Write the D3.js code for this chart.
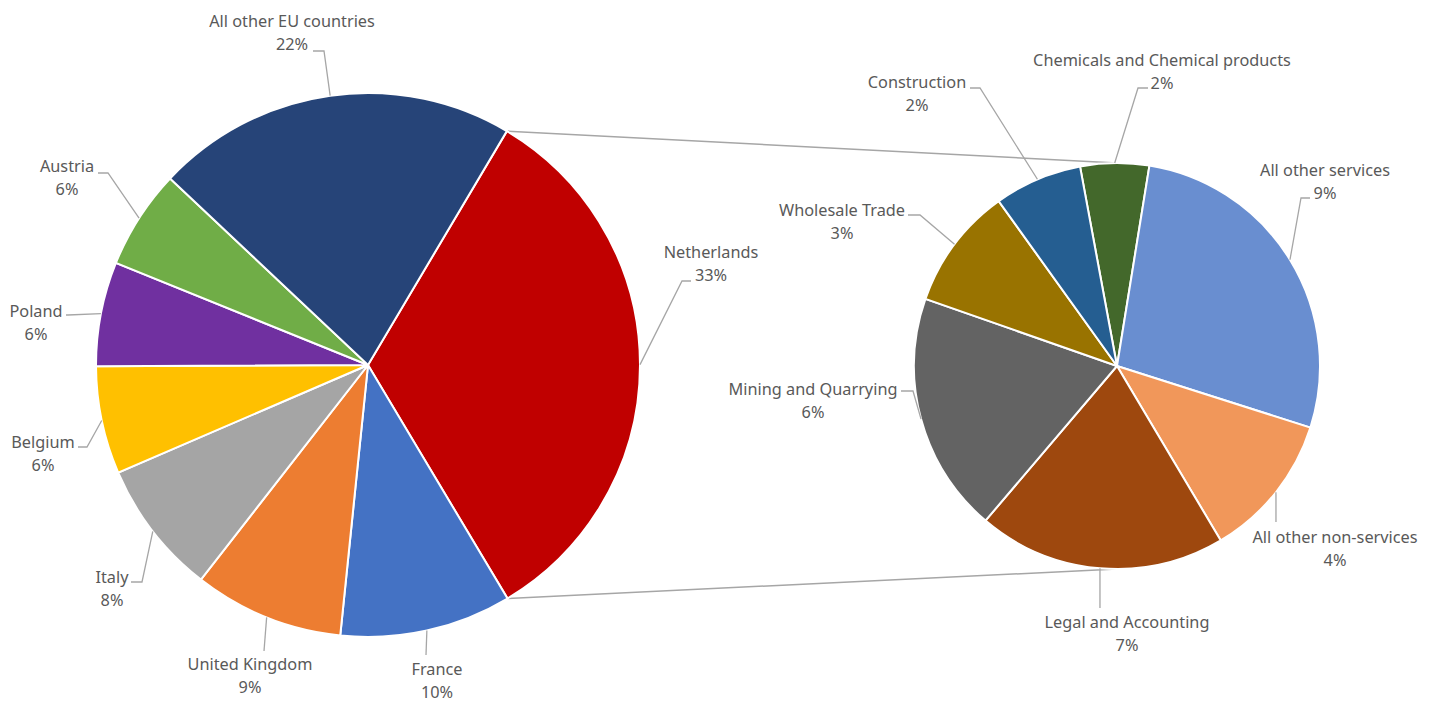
<!DOCTYPE html>
<html>
<head>
<meta charset="utf-8">
<script src="https://cdn.jsdelivr.net/npm/d3@7"></script>
<style>
  body { margin: 0; background: #fff; }
  text { font-family: "Noto Sans", "Open Sans", sans-serif; font-size: 16.3px; fill: #595959; }
</style>
</head>
<body>
<script>
// main pie: share of total by country (%)
const countries = ["Netherlands", "France", "United Kingdom", "Italy", "Belgium", "Poland", "Austria", "All other EU countries"];
const countryShare = [32.9, 10.2, 8.9, 8.0, 6.4, 6.2, 5.9, 21.5];
const countryColors = ["#C00000", "#4472C4", "#ED7D31", "#A5A5A5", "#FFC000", "#7030A0", "#70AD47", "#264478"];

// secondary pie: Netherlands split by sector (%)
const sectors = ["Chemicals and Chemical products", "All other services", "All other non-services", "Legal and Accounting", "Mining and Quarrying", "Wholesale Trade", "Construction"];
const sectorShare = [1.8, 9.0, 3.8, 6.5, 6.3, 3.2, 2.3];
const sectorColors = ["#43682B", "#698ED0", "#F1975A", "#9E480E", "#636363", "#997300", "#255E91"];

const width = 1435;
const height = 704;
const deg = Math.PI / 180;

const main = {x: 368, y: 365, r: 272, start: 30.7};
const sub = {x: 1117, y: 366, r: 203, start: 349.5};

// label text centre, elbow and end of leader line
const labelPos = {
  "All other EU countries": {t: [292, 21], e: [324, 51], h: [313, 51]},
  "Austria": {t: [67, 166], e: [108, 173], h: [98, 173]},
  "Poland": {t: [36, 311], e: [68, 315], h: [66, 315]},
  "Belgium": {t: [43, 442], e: [87, 447], h: [78, 447]},
  "Italy": {t: [112, 577], e: [142, 582], h: [131, 582]},
  "United Kingdom": {t: [250, 664], e: [264, 651], h: [264, 651]},
  "France": {t: [437, 669], e: [426, 655], h: [426, 655]},
  "Netherlands": {t: [711, 252], e: [682, 281], h: [691, 281]},
  "Chemicals and Chemical products": {t: [1162, 60], e: [1138, 88], h: [1148, 88]},
  "Construction": {t: [917, 82], e: [980, 88], h: [970, 88]},
  "All other services": {t: [1325, 170], e: [1301, 198], h: [1310, 198]},
  "All other non-services": {t: [1335, 537], e: [1276, 522], h: [1276, 522]},
  "Legal and Accounting": {t: [1127, 622], e: [1100, 608], h: [1100, 608]},
  "Mining and Quarrying": {t: [813, 389], e: [913, 391], h: [901, 391]},
  "Wholesale Trade": {t: [842, 210], e: [920, 215], h: [908, 215]}
};

const svg = d3.select("body")
  .append("svg")
  .attr("width", width)
  .attr("height", height);

function onArc(c, a) {
  return [c.x + c.r * Math.sin(a), c.y - c.r * Math.cos(a)];
}

function drawPie(c, names, values, colors) {
  const data = names.map((n, i) => ({name: n, value: values[i], color: colors[i]}));
  const pie = d3.pie()
    .sort(null)
    .value(d => d.value)
    .startAngle(c.start * deg)
    .endAngle(c.start * deg + 2 * Math.PI);
  const arcs = pie(data);
  const arc = d3.arc().innerRadius(0).outerRadius(c.r);

  const g = svg.append("g").attr("transform", `translate(${c.x},${c.y})`);
  g.selectAll("path")
    .data(arcs)
    .join("path")
    .attr("d", arc)
    .attr("fill", d => d.data.color)
    .attr("stroke", "#fff")
    .attr("stroke-width", 2);

  // leader lines + labels
  arcs.forEach(d => {
    const p = labelPos[d.data.name];
    const s = onArc(c, (d.startAngle + d.endAngle) / 2);
    svg.append("polyline")
      .attr("points", [s, p.e, p.h].map(q => q.join(",")).join(" "))
      .attr("fill", "none")
      .attr("stroke", "#A6A6A6")
      .attr("stroke-width", 1.3);
    const t = svg.append("text")
      .attr("text-anchor", "middle")
      .attr("x", p.t[0])
      .attr("y", p.t[1]);
    t.append("tspan").attr("x", p.t[0]).attr("dy", "0.35em").text(d.data.name);
    t.append("tspan").attr("x", p.t[0]).attr("dy", 23).text(Math.round(d.data.value) + "%");
  });
  return arcs;
}

// connector lines between the split slice and the secondary pie
const splitEnd = main.start + countryShare[0] / d3.sum(countryShare) * 360;
const conn = [
  [onArc(main, main.start * deg), [sub.x, sub.y - sub.r]],
  [onArc(main, splitEnd * deg), [sub.x, sub.y + sub.r]]
];
svg.selectAll("line.conn")
  .data(conn)
  .join("line")
  .attr("class", "conn")
  .attr("x1", d => d[0][0]).attr("y1", d => d[0][1])
  .attr("x2", d => d[1][0]).attr("y2", d => d[1][1])
  .attr("stroke", "#A6A6A6")
  .attr("stroke-width", 1.5);

drawPie(main, countries, countryShare, countryColors);
drawPie(sub, sectors, sectorShare, sectorColors);
</script>
</body>
</html>
